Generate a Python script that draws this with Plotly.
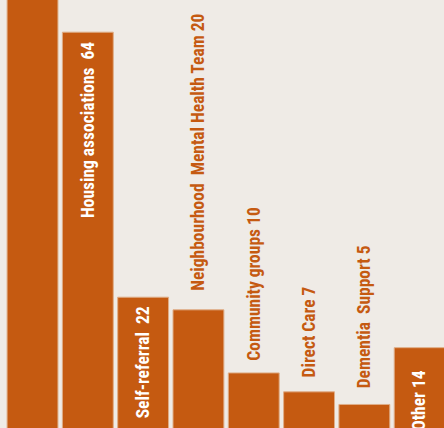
import plotly.graph_objects as go

categories = ["Adult Social Care", "Housing associations", "Self-referral",
              "Neighbourhood  Mental Health Team", "Community groups",
              "Direct Care", "Dementia  Support", "Other"]
values = [100, 64, 22, 20, 10, 7, 5, 14]

BAR = "#c55a11"
BG = "#efebe6"
FONT = "Liberation Sans Narrow, Arial Narrow, Roboto Condensed, DejaVu Sans Condensed, sans-serif"

# label style: inside (white, hanging from bar top) or outside (orange, above bar)
inside = [True, True, True, False, False, False, False, True]
shifts = [-8, -8, -7, 17, 10, 12, 14, -20]
seps = ["  ", "  ", "  ", " ", " ", " ", " ", " "]

x = list(range(len(categories)))
fig = go.Figure(go.Bar(
    x=x, y=values,
    marker=dict(color=BAR, line=dict(color="#dfae88", width=1)),
    width=0.92,
    hoverinfo="skip",
))

anns = []
for i, (c, v) in enumerate(zip(categories, values)):
    txt = f"{c}{seps[i]}{v}"
    anns.append(dict(
        x=i, y=v, xref="x", yref="y", text=txt, showarrow=False,
        textangle=-90, yanchor="top" if inside[i] else "bottom",
        xanchor="center", yshift=shifts[i],
        font=dict(family=FONT, size=17.5, color="white" if inside[i] else BAR,
                  weight="bold"),
    ))

fig.update_layout(
    width=444, height=428,
    margin=dict(l=0, r=0, t=0, b=0),
    paper_bgcolor=BG, plot_bgcolor=BG,
    showlegend=False,
    xaxis=dict(range=[-0.588, 7.44], visible=False, fixedrange=True),
    yaxis=dict(range=[1.27, 69.1], visible=False, fixedrange=True),
    annotations=anns,
)
fig.write_html("out.html")
